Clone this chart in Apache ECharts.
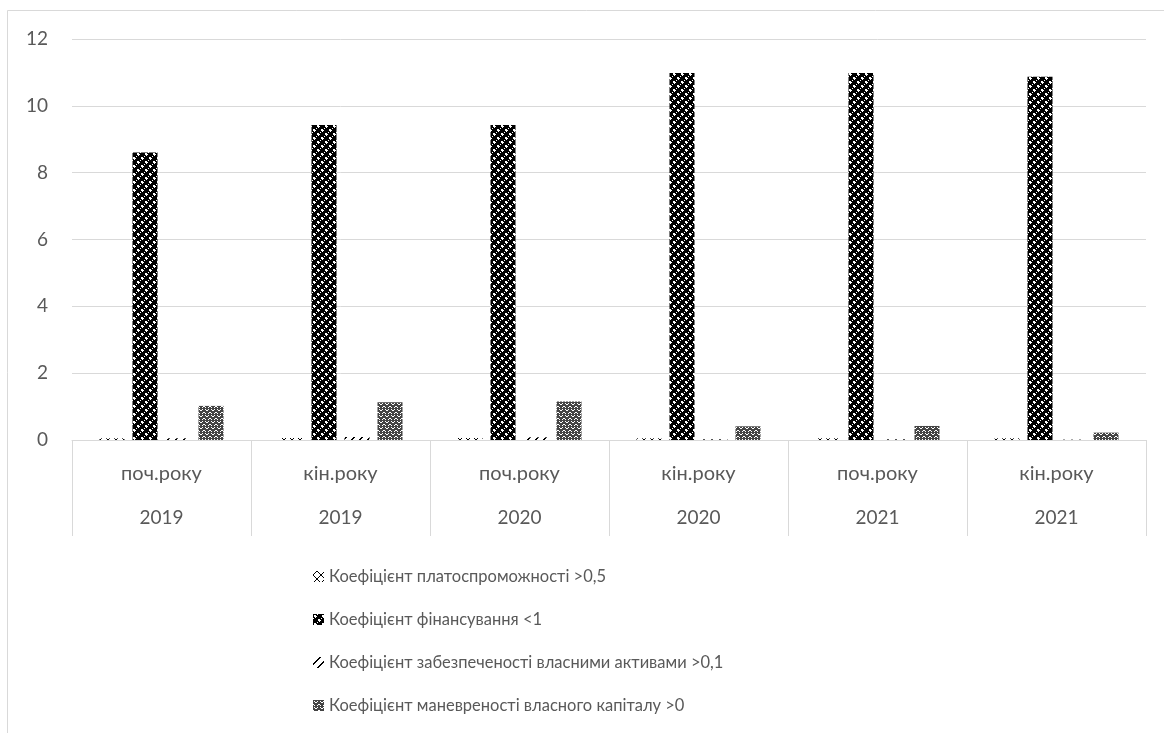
<!DOCTYPE html>
<html>
<head>
<meta charset="utf-8">
<script src="https://cdn.jsdelivr.net/npm/echarts@6/dist/echarts.min.js"></script>
<style>
  html, body { margin: 0; padding: 0; background: #fff; }
  #chart { width: 1164px; height: 733px; }
</style>
</head>
<body>
<div id="chart"></div>
<script>
// Periods (inner axis level) and years (outer axis level)
const periods = ['поч.року', 'кін.року', 'поч.року', 'кін.року', 'поч.року', 'кін.року'];
const years = ['2019', '2019', '2020', '2020', '2021', '2021'];

// Ratio names
const seriesNames = [
  'Коефіцієнт платоспроможності >0,5',
  'Коефіцієнт фінансування <1',
  'Коефіцієнт забезпеченості власними активами >0,1',
  'Коефіцієнт маневреності власного капіталу >0'
];

// Values per period
const solvency = [0.05, 0.06, 0.06, 0.05, 0.05, 0.05];
const financing = [8.6, 9.43, 9.43, 10.98, 10.98, 10.87];
const ownAssets = [0.05, 0.09, 0.08, 0.02, 0.02, 0.01];
const maneuver = [1.02, 1.13, 1.15, 0.41, 0.42, 0.22];

const yTicks = { min: 0, max: 12, interval: 2 };

// Small bitmap tiles used as hatch fills
function tile(size, bg, draw) {
  const c = document.createElement('canvas');
  c.width = size; c.height = size;
  const g = c.getContext('2d');
  g.fillStyle = bg; g.fillRect(0, 0, size, size);
  draw(g);
  return c;
}
function px(g, pts, color) {
  g.fillStyle = color;
  pts.forEach(p => g.fillRect(p[0], p[1], 1, 1));
}

// outlined diamonds on white
const patSolvency = tile(8, '#fff', g => {
  px(g, [[3,0],[4,0],[1,2],[6,2],[0,3],[7,3],[0,4],[7,4],[1,5],[6,5],[3,7],[4,7],[2,1],[5,1],[2,6],[5,6]], '#000');
});
// black field with white crosses
const patFinancing = tile(8, '#000', g => {
  px(g, [[1,1],[2,1],[1,2],[2,2],[5,5],[6,5],[5,6],[6,6],[3,2],[2,3],[7,6],[6,7],[0,4],[4,0]], '#fff');
});
// wide upward diagonal dashes
const patOwn = tile(8, '#fff', g => {
  px(g, [[7,0],[6,1],[5,2],[4,3],[3,4],[2,5],[1,6],[0,7],[6,0],[5,1],[4,2],[3,3],[2,4],[1,5],[0,6],[7,7]], '#000');
});
// grey mesh with white dots
const patManeuver = tile(6, '#fff', g => {
  px(g, [[0,0],[1,0],[2,0],[3,0],[4,0],[5,0],[0,1],[2,1],[3,1],[5,1],[0,2],[1,2],[4,2],[5,2],
         [0,3],[1,3],[2,3],[3,3],[4,3],[5,3],[1,4],[2,4],[3,4],[4,4],[0,5],[2,5],[3,5],[5,5]], '#444');
});

const fills = [patSolvency, patFinancing, patOwn, patManeuver];
const values = [solvency, financing, ownAssets, maneuver];

const textColor = '#595959';
const lineColor = '#d9d9d9';
const font = 'Lato, "Open Sans", sans-serif';

const chart = echarts.init(document.getElementById('chart'), null, { renderer: 'canvas' });

chart.setOption({
  animation: false,
  backgroundColor: '#fff',
  textStyle: { fontFamily: font },
  graphic: [{
    type: 'rect',
    shape: { x: 7.5, y: 10.5, width: 1200, height: 800 },
    style: { fill: 'none', stroke: lineColor, lineWidth: 1 },
    silent: true
  }],
  grid: { left: 72, right: 18, top: 39, bottom: 293, containLabel: false },
  legend: {
    orient: 'vertical',
    left: 308,
    top: 563,
    itemWidth: 11,
    itemHeight: 11,
    itemGap: 26,
    icon: 'rect',
    textStyle: { color: textColor, fontSize: 16.5, fontFamily: font },
    data: seriesNames
  },
  xAxis: [{
    type: 'category',
    data: periods,
    position: 'bottom',
    axisLine: { lineStyle: { color: lineColor, width: 1 } },
    axisTick: { show: true, interval: 0, length: 96, lineStyle: { color: lineColor } },
    axisLabel: { interval: 0, color: textColor, fontSize: 20, margin: 24, fontFamily: font },
    splitLine: { show: false }
  }, {
    type: 'category',
    data: years,
    position: 'bottom',
    axisLine: { show: false },
    axisTick: { show: false },
    axisLabel: { interval: 0, color: textColor, fontSize: 19, margin: 68, fontFamily: font },
    splitLine: { show: false }
  }],
  yAxis: {
    type: 'value',
    min: yTicks.min,
    max: yTicks.max,
    interval: yTicks.interval,
    axisLine: { show: false },
    axisTick: { show: false },
    axisLabel: { color: textColor, fontSize: 19, margin: 24, fontFamily: font },
    splitLine: { lineStyle: { color: lineColor, width: 1 } }
  },
  series: seriesNames.map((name, i) => ({
    name: name,
    type: 'bar',
    xAxisIndex: 0,
    barWidth: 25,
    barGap: '32%',
    data: values[i],
    itemStyle: { color: { image: fills[i], repeat: 'repeat' } },
    emphasis: { disabled: true }
  }))
});
</script>
</body>
</html>
